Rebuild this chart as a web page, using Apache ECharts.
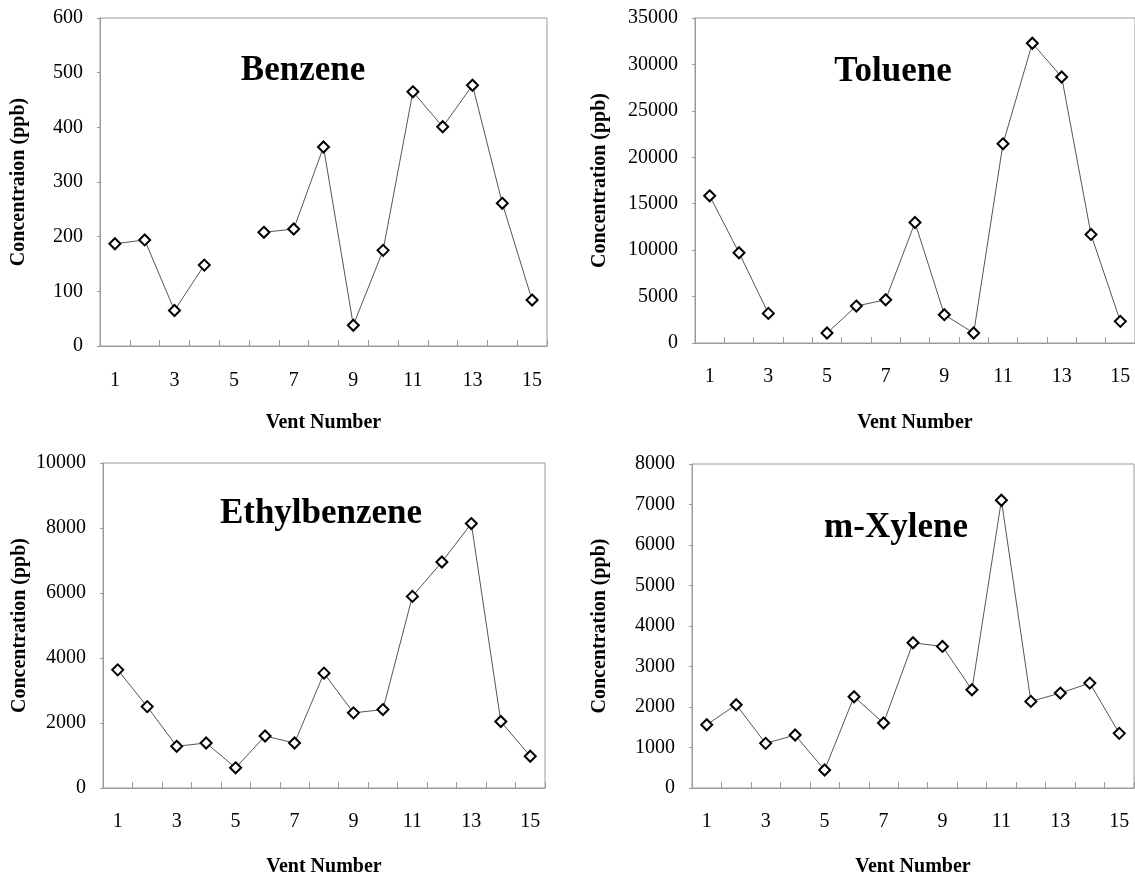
<!DOCTYPE html>
<html>
<head>
<meta charset="utf-8">
<script src="https://cdn.jsdelivr.net/npm/echarts@6/dist/echarts.min.js"></script>
<style>
html,body{margin:0;padding:0;background:#fff;}
#chart{width:1135px;height:878px;}
</style>
</head>
<body>
<div id="chart"></div>
<script>
const categories = ['1','2','3','4','5','6','7','8','9','10','11','12','13','14','15'];
const benzene = [187,194,65,148,null,208,214,364,38,175,465,401,477,261,84];
const toluene = [15850,9720,3190,null,1075,3980,4660,12980,3050,1075,21450,32280,28650,11690,2330];
const ethylbenzene = [3635,2505,1283,1385,621,1599,1385,3534,2312,2413,5896,6955,8136,2047,978];
const mXylene = [1562,2056,1102,1308,444,2253,1604,3586,3495,2426,7105,2138,2344,2590,1349];
const panelTitles = ['Benzene','Toluene','Ethylbenzene','m-Xylene'];
const yNames = ['Concentraion (ppb)','Concentration (ppb)','Concentration (ppb)','Concentration (ppb)'];
const xName = 'Vent Number';
const yMax = [600,35000,10000,8000];
const yStep = [100,5000,2000,1000];

const FONT = '"Liberation Serif","Times New Roman",serif';
const GRAY = '#9a9a9a';
const grids = [
  {left:100, top:18, width:447, height:328},
  {left:695, top:18, width:440, height:325},
  {left:103, top:463, width:442, height:327},
  {left:692, top:464, width:442, height:325}
];
const yNameGap = [71,85,73,82];
const xNameGap = [67,70,69,69];
const xLabelMargin = [25,24,24,24];
const titlePos = [[303,71],[893,72],[321,514],[896,528]];
const seriesData = [benzene, toluene, ethylbenzene, mXylene];

const option = {
  backgroundColor:'#fff',
  animation:false,
  grid: grids.map(g => Object.assign({show:true, borderColor:GRAY, borderWidth:1, backgroundColor:'transparent'}, g)),
  xAxis: grids.map((g,i) => ({
    type:'category', gridIndex:i, data:categories, boundaryGap:true,
    name:xName, nameLocation:'middle', nameGap:xNameGap[i],
    nameTextStyle:{fontFamily:FONT, fontWeight:'bold', fontSize:20, color:'#000'},
    axisLine:{lineStyle:{color:GRAY, width:1}},
    axisTick:{show:true, inside:true, length:6, interval:0, lineStyle:{color:GRAY}},
    axisLabel:{interval:1, margin:xLabelMargin[i], fontFamily:FONT, fontSize:20, color:'#000'},
    splitLine:{show:false}
  })),
  yAxis: grids.map((g,i) => ({
    type:'value', gridIndex:i, min:0, max:yMax[i], interval:yStep[i],
    name:yNames[i], nameLocation:'middle', nameGap:yNameGap[i], nameRotate:90,
    nameTextStyle:{fontFamily:FONT, fontWeight:'bold', fontSize:20, color:'#000'},
    axisLine:{show:true, lineStyle:{color:GRAY, width:1}},
    axisTick:{show:true, inside:false, length:3, lineStyle:{color:GRAY}},
    axisLabel:{margin:17, fontFamily:FONT, fontSize:20, color:'#000', formatter: v => String(v)},
    splitLine:{show:false}
  })),
  series: seriesData.map((d,i) => ({
    type:'line', xAxisIndex:i, yAxisIndex:i, data:d, connectNulls:false,
    symbol:'diamond', symbolSize:[11,11], showSymbol:true,
    lineStyle:{color:'#555', width:1},
    itemStyle:{color:'#fff', borderColor:'#000', borderWidth:2},
    emphasis:{disabled:true}
  })),
  graphic: panelTitles.map((t,i) => ({
    type:'text', x:titlePos[i][0], y:titlePos[i][1],
    style:{text:t, fontFamily:FONT, fontWeight:'bold', fontSize:35, fill:'#000', align:'center', verticalAlign:'middle'}
  }))
};
const chart = echarts.init(document.getElementById('chart'), null, {renderer:'canvas'});
chart.setOption(option);
</script>
</body>
</html>
